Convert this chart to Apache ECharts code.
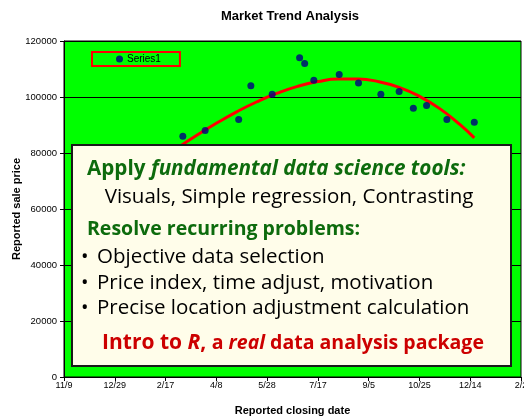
<!DOCTYPE html>
<html>
<head>
<meta charset="utf-8">
<script src="https://cdn.jsdelivr.net/npm/echarts@6/dist/echarts.min.js"></script>
<style>html,body{margin:0;padding:0;background:#fff}#c{width:524px;height:417px}</style>
</head>
<body>
<div id="c"></div>
<script>
// x-axis ticks (days since 11/9) and labels
var tickLabels = ['11/9', '12/29', '2/17', '4/8', '5/28', '7/17', '9/5', '10/25', '12/14', '2/2'];
// scatter points: day offset from 11/9, reported sale price
var saleDays = [117, 139, 172, 184, 205, 232, 237, 246, 271, 290, 312, 330, 344, 357, 377, 404];
var salePrices = [86000, 88000, 92000, 104000, 101000, 114000, 112000, 106000, 108000, 105000, 101000, 102000, 96000, 97000, 92000, 91000];
// trend line
var trendDays = [112, 130, 150, 170, 190, 210, 230, 250, 270, 290, 310, 330, 350, 370, 390, 404];
var trendValues = [81900, 86150, 90600, 94700, 98300, 101350, 103800, 105500, 106400, 106400, 105450, 103450, 100250, 95850, 90100, 85400];

var scatterData = saleDays.map(function (d, i) { return [d, salePrices[i]]; });
var trendData = trendDays.map(function (d, i) { return [d, trendValues[i]]; });

var handFont = '"Comic Sans MS", "Open Sans", sans-serif';
var axFont = 'Arial, "Liberation Sans", sans-serif';
var green = '#0d6b0d';
var red = '#cc0000';
var Z = 100;

var chart = echarts.init(document.getElementById('c'), null, { renderer: 'canvas' });
chart.setOption({
  animation: false,
  title: {
    text: 'Market Trend Analysis',
    left: 285, top: 5, textAlign: 'center',
    textStyle: { fontFamily: axFont, fontSize: 13, fontWeight: 'bold', color: '#000' }
  },
  legend: {
    data: ['Series1'],
    left: 92, top: 52,
    orient: 'horizontal',
    padding: [2, 19, 2, 24],
    borderColor: '#ff0000', borderWidth: 2,
    itemWidth: 7, itemHeight: 7, itemGap: 4,
    icon: 'circle',
    textStyle: { fontFamily: axFont, fontSize: 10, color: '#000', padding: [0, 0, 0, -1] }
  },
  grid: {
    left: 64, right: 3, top: 41, bottom: 40,
    outerBoundsMode: 'none',
    containLabel: false,
    show: true, backgroundColor: '#00ff00', borderColor: '#000', borderWidth: 1
  },
  xAxis: {
    type: 'value', min: 0, max: 450, interval: 50,
    name: 'Reported closing date', nameLocation: 'middle', nameGap: 28, nameMoveOverlap: false,
    nameTextStyle: { fontFamily: axFont, fontSize: 11, fontWeight: 'bold', color: '#000' },
    axisLine: { lineStyle: { color: '#000', width: 1 } },
    axisTick: { show: true, length: 4, lineStyle: { color: '#000' } },
    axisLabel: {
      fontFamily: axFont, fontSize: 9, color: '#000', margin: 4,
      hideOverlap: false, showMaxLabel: true, showMinLabel: true,
      formatter: function (v) { return tickLabels[Math.round(v / 50)] || ''; }
    },
    splitLine: { show: false }
  },
  yAxis: {
    type: 'value', min: 0, max: 120000, interval: 20000,
    name: 'Reported sale price', nameLocation: 'middle', nameGap: 42, nameMoveOverlap: false,
    nameTextStyle: { fontFamily: axFont, fontSize: 11, fontWeight: 'bold', color: '#000' },
    axisLine: { show: true, lineStyle: { color: '#000', width: 1 } },
    axisTick: { show: true, length: 4, lineStyle: { color: '#000' } },
    axisLabel: { fontFamily: axFont, fontSize: 9.5, color: '#000', margin: 7,
      formatter: function (v) { return String(v); } },
    splitLine: { show: true, lineStyle: { color: '#000', width: 1 } }
  },
  series: [
    {
      name: 'Trend', type: 'line', data: trendData, smooth: true,
      showSymbol: false, z: 2,
      lineStyle: { color: '#ff0000', width: 3 }
    },
    {
      name: 'Series1', type: 'scatter', data: scatterData, z: 3,
      symbol: 'circle', symbolSize: 7,
      itemStyle: { color: '#000080' }
    }
  ],
  graphic: [
    { type: 'rect', z: Z, shape: { x: 72, y: 145, width: 439, height: 221 },
      style: { fill: '#fffdea', stroke: '#1a1a1a', lineWidth: 2 } },
    { type: 'text', z: Z + 1, x: 87, y: 169,
      style: { text: '{a|Apply }{b|fundamental data science tools:}', verticalAlign: 'middle',
        rich: {
          a: { fontFamily: handFont, fontSize: 20.7, fontWeight: 'bold', fill: green },
          b: { fontFamily: handFont, fontSize: 20.7, fontWeight: 'bold', fontStyle: 'italic', fill: green }
        } } },
    { type: 'text', z: Z + 1, x: 289, y: 197,
      style: { text: 'Visuals, Simple regression, Contrasting', align: 'center', verticalAlign: 'middle',
        fontFamily: handFont, fontSize: 20.5, fill: '#000' } },
    { type: 'text', z: Z + 1, x: 87, y: 229,
      style: { text: 'Resolve recurring problems:', verticalAlign: 'middle',
        fontFamily: handFont, fontSize: 19.5, fontWeight: 'bold', fill: green } },
    { type: 'text', z: Z + 1, x: 81, y: 257,
      style: { text: '•', verticalAlign: 'middle', fontFamily: handFont, fontSize: 20, fill: '#000' } },
    { type: 'text', z: Z + 1, x: 97, y: 257,
      style: { text: 'Objective data selection', verticalAlign: 'middle', fontFamily: handFont, fontSize: 20.5, fill: '#000' } },
    { type: 'text', z: Z + 1, x: 81, y: 283,
      style: { text: '•', verticalAlign: 'middle', fontFamily: handFont, fontSize: 20, fill: '#000' } },
    { type: 'text', z: Z + 1, x: 97, y: 283,
      style: { text: 'Price index, time adjust, motivation', verticalAlign: 'middle', fontFamily: handFont, fontSize: 20.5, fill: '#000' } },
    { type: 'text', z: Z + 1, x: 81, y: 308,
      style: { text: '•', verticalAlign: 'middle', fontFamily: handFont, fontSize: 20, fill: '#000' } },
    { type: 'text', z: Z + 1, x: 97, y: 308,
      style: { text: 'Precise location adjustment calculation', verticalAlign: 'middle', fontFamily: handFont, fontSize: 20.5, fill: '#000' } },
    { type: 'text', z: Z + 1, x: 293, y: 343,
      style: { text: '{a|Intro to }{b|R}{a|, }{c|a }{d|real}{c| data analysis package}', align: 'center', verticalAlign: 'middle',
        rich: {
          a: { fontFamily: handFont, fontSize: 21, fontWeight: 'bold', fill: red },
          b: { fontFamily: handFont, fontSize: 21, fontWeight: 'bold', fontStyle: 'italic', fill: red },
          c: { fontFamily: handFont, fontSize: 19.5, fontWeight: 'bold', fill: red },
          d: { fontFamily: handFont, fontSize: 19.5, fontWeight: 'bold', fontStyle: 'italic', fill: red }
        } } }
  ]
});
</script>
</body>
</html>
